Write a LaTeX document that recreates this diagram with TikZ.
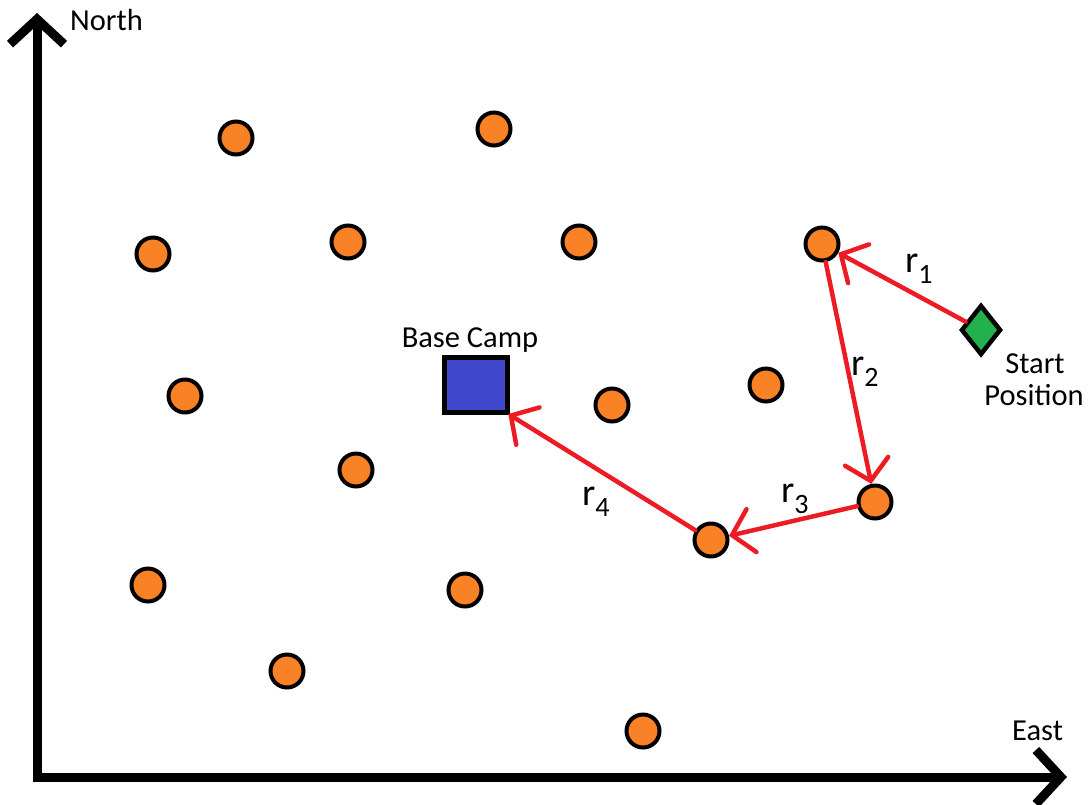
\documentclass[tikz,border=0pt]{standalone}
\usepackage{fontspec}
\setmainfont{Carlito}
\usetikzlibrary{arrows.meta,shapes.geometric}
\definecolor{dotorange}{RGB}{250,130,38}
\definecolor{routered}{RGB}{237,28,36}
\definecolor{startgreen}{RGB}{34,177,76}
\definecolor{campblue}{RGB}{63,72,204}
\begin{document}
\begin{tikzpicture}[x=1pt,y=-1pt,
  orangedot/.style={circle,draw=black,fill=dotorange,line width=4pt,minimum size=33pt,inner sep=0pt},
  route/.style={draw=routered,line width=4.5pt,line cap=round,-{Straight Barb[length=20pt,width=44pt,line cap=round]}},
  axisline/.style={line width=9pt,line join=miter,{Straight Barb[length=25pt,width=54pt]}-{Straight Barb[length=25pt,width=54pt]}},
  lbl/.style={font=\fontsize{30.5}{34}\selectfont,inner sep=0pt,anchor=base},
  rlbl/.style={font=\fontsize{38}{40}\selectfont,inner sep=0pt,anchor=base west}]
\useasboundingbox (0,0) rectangle (1089,804);
% axes
\coordinate (ntip) at (37,13);
\coordinate (orig) at (37,777);
\coordinate (etip) at (1067,777);
\draw[axisline] (ntip) -- (orig) -- (etip);
\node[lbl,anchor=base west] (north) at (70,30) {North};
\node[lbl,anchor=base west] (east) at (1012,740) {East};
% dots
\node[orangedot] (c1) at (236,138) {};
\node[orangedot] (c2) at (494,129) {};
\node[orangedot] (c3) at (153,254) {};
\node[orangedot] (c4) at (348,242) {};
\node[orangedot] (c5) at (579,242) {};
\node[orangedot] (c6) at (822,244) {};
\node[orangedot] (c7) at (185,396) {};
\node[orangedot] (c8) at (612,405) {};
\node[orangedot] (c9) at (766,385) {};
\node[orangedot] (c10) at (356,470) {};
\node[orangedot] (c11) at (875,502) {};
\node[orangedot] (c12) at (711,540) {};
\node[orangedot] (c13) at (148,585) {};
\node[orangedot] (c14) at (465,590) {};
\node[orangedot] (c15) at (287,671) {};
\node[orangedot] (c16) at (643,731) {};
% base camp
\node[draw=black,fill=campblue,line width=5pt,minimum width=63pt,minimum height=55pt,inner sep=0pt] (bc) at (476,385) {};
\node[lbl] (bclbl) at (470,347) {Base Camp};
% start
\node[diamond,draw=black,fill=startgreen,line width=4.5pt,minimum width=40pt,minimum height=50pt,inner sep=0pt] (sp) at (981,330) {};
\node[lbl] (splbl1) at (1035,373) {Start};
\node[lbl] (splbl2) at (1034,405) {Position};
% routes
\draw[route] (sp) -- (c6);
\draw[route] (c6) -- (c11);
\draw[route] (c11) -- (c12);
\draw[route,shorten >=-2pt] (c12) -- (bc.south east);
% route labels
\node[rlbl] (r1) at (905,272) {r\raisebox{-11pt}{\fontsize{28}{30}\selectfont 1}};
\node[rlbl] (r2) at (851,375) {r\raisebox{-11pt}{\fontsize{28}{30}\selectfont 2}};
\node[rlbl] (r3) at (781,502) {r\raisebox{-11pt}{\fontsize{28}{30}\selectfont 3}};
\node[rlbl] (r4) at (582,505) {r\raisebox{-11pt}{\fontsize{28}{30}\selectfont 4}};
\end{tikzpicture}
\end{document}
